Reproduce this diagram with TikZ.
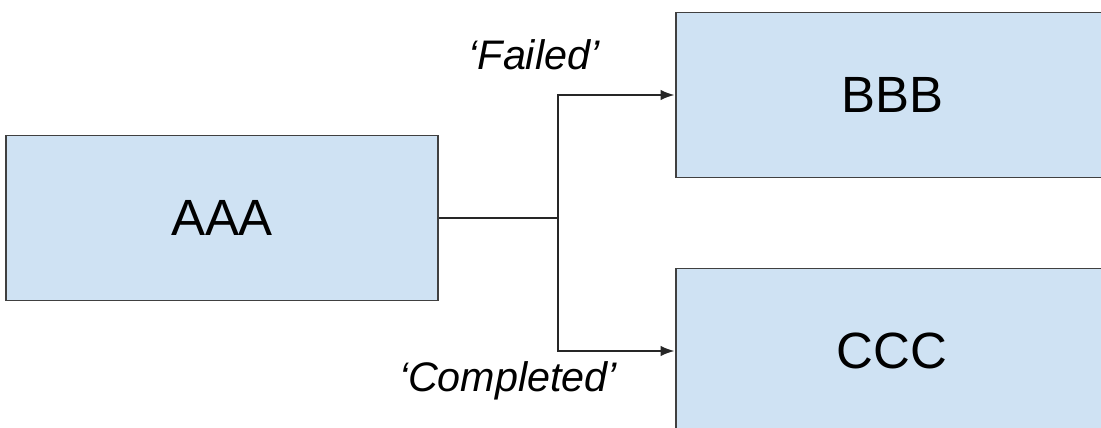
\documentclass[tikz,border=0pt]{standalone}
\usepackage{fontspec}
\setmainfont{Liberation Sans}
\usepackage{xcolor}
\usetikzlibrary{arrows.meta, positioning}
\definecolor{boxfill}{HTML}{CFE2F3}
\definecolor{boxline}{HTML}{404040}

\begin{document}
\begin{tikzpicture}[x=0.02cm,y=-0.02cm,>={Latex[length=8pt,width=6pt]},
        stepbox/.style={draw=boxline,fill=boxfill,line width=1.1pt,
          minimum width=8.66cm,minimum height=3.3cm,inner sep=0pt,
          font=\fontsize{29}{34}\selectfont},
        outcome/.style={font=\fontsize{23.5}{28}\selectfont\itshape,inner sep=0pt},
        link/.style={draw=black!85,line width=1.1pt}]
    \useasboundingbox (0,0) rectangle (1101,428);
    \clip (0,0) rectangle (1101,428);

      \node[stepbox] (aaa) at (222,218) {AAA};
      \node[stepbox] (bbb) at (892,95)  {BBB};
      \node[stepbox] (ccc) at (892,351) {CCC};
      \coordinate (split) at (558,218);

      \node[outcome] (failed)    at (534,55)  {‘Failed’};
      \node[outcome] (completed) at (508,381) {‘Completed’};

      \path[link] (aaa.east) -- (split);
      \path[link,->] (split) |- (bbb.west);
      \path[link,->] (split) |- (ccc.west);
    \end{tikzpicture}
\end{document}
